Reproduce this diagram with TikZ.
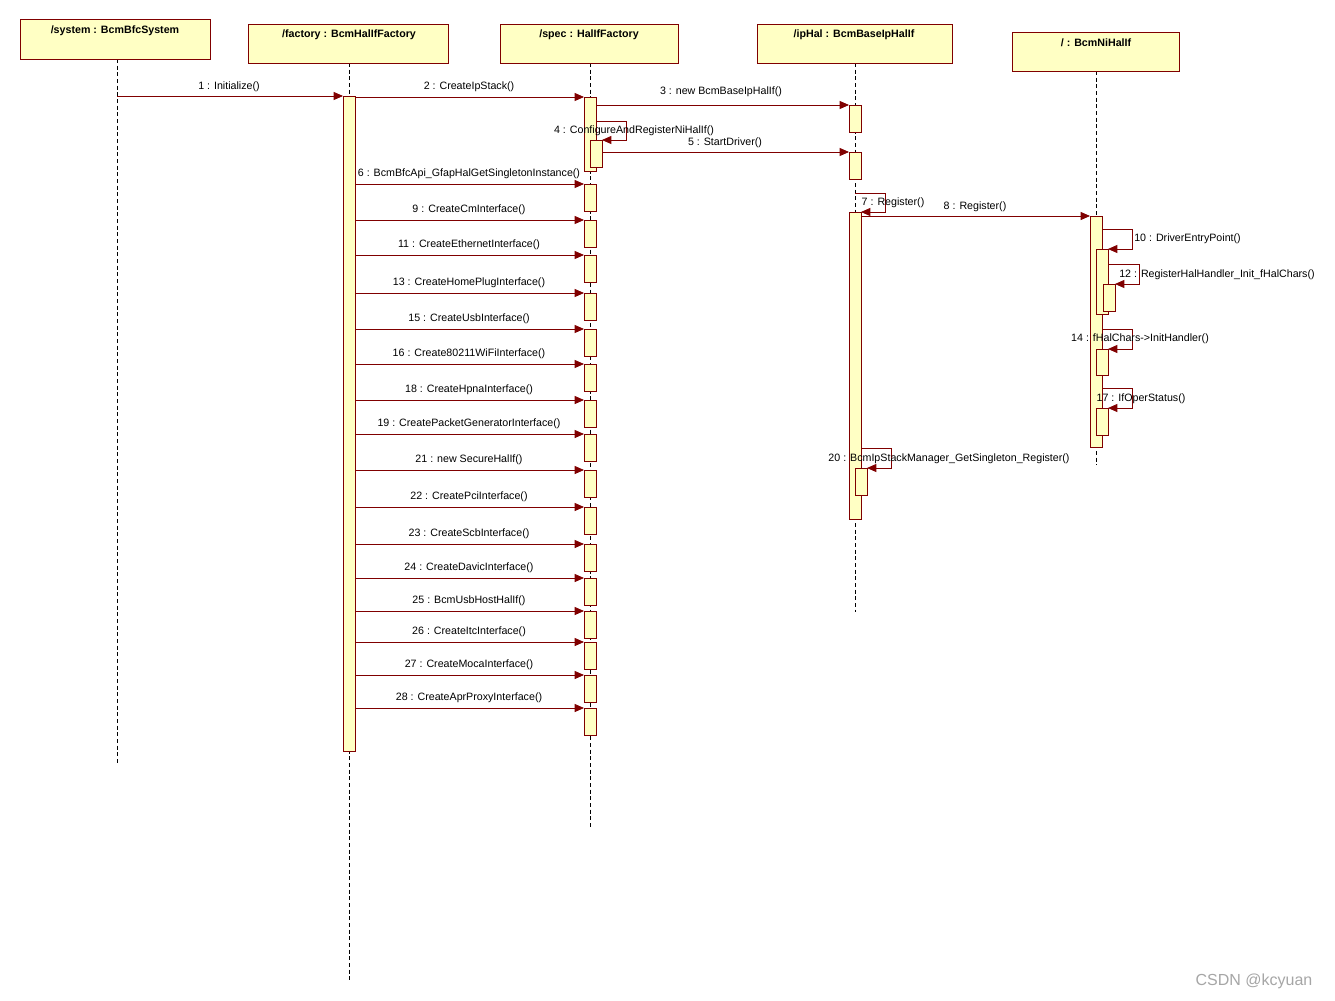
\documentclass[tikz,border=0pt]{standalone}
\usepackage{fontspec}
\setmainfont{Liberation Sans}
\usetikzlibrary{arrows.meta}
\definecolor{dred}{HTML}{800000}
\definecolor{lyel}{HTML}{FFFFC4}
\begin{document}
\begin{tikzpicture}[x=0.75pt,y=-0.75pt,
  obj/.style={draw=dred,fill=lyel,line width=0.6pt},
  life/.style={dash pattern=on 3pt off 2pt,line width=0.5pt},
  act/.style={draw=dred,fill=lyel,line width=0.6pt},
  msg/.style={dred,line width=0.6pt,-{Triangle[length=7pt,width=6pt]}},
  lab/.style={font=\fontsize{8pt}{9pt}\selectfont,inner sep=0pt},
  hd/.style={font=\bfseries\fontsize{8pt}{9pt}\selectfont,inner sep=0pt}]
\useasboundingbox (0,0) rectangle (1335,1000);
\fill[white] (0,0) rectangle (1335,1000);
% lifelines
\draw[life] (117,59) -- (117,765);
\draw[life] (349,63) -- (349,980);
\draw[life] (590,63) -- (590,828);
\draw[life] (855,63) -- (855,612);
\draw[life] (1096,71) -- (1096,465);
% object boxes
\draw[obj] (20,19) rectangle (210,59); \node[hd] (sys) at (115,31) {/system : BcmBfcSystem};
\draw[obj] (248,24) rectangle (448,63); \node[hd] (fac) at (349,35) {/factory : BcmHalIfFactory};
\draw[obj] (500,24) rectangle (678,63); \node[hd] (spec) at (589,35) {/spec : HalIfFactory};
\draw[obj] (757,24) rectangle (952,63); \node[hd] (iphal) at (854,35) {/ipHal : BcmBaseIpHalIf};
\draw[obj] (1012,32) rectangle (1179,71); \node[hd] (ni) at (1096,43) {/ : BcmNiHalIf};
% activations
\draw[act] (343,96) rectangle (355,751);
\draw[act] (584,97) rectangle (596,171);
\draw[act] (590,140) rectangle (602,167);
\foreach \a in {184,220,255,293,329,364,400,434,470,507,544,578,611,642,675,708}
  \draw[act] (584,\a) rectangle (596,\a+27);
\draw[act] (849,105) rectangle (861,132);
\draw[act] (849,152) rectangle (861,179);
\draw[act] (849,212) rectangle (861,519);
\draw[act] (855,468) rectangle (867,495);
\draw[act] (1090,216) rectangle (1102,447);
\draw[act] (1096,249) rectangle (1108,314);
\draw[act] (1103,284) rectangle (1115,311);
\draw[act] (1096,349) rectangle (1108,375);
\draw[act] (1096,408) rectangle (1108,435);
% messages
\draw[msg] (117,96) -- (343,96); \node[lab] at (229,87) {1 : Initialize()};
\foreach \y/\t in {97/2 : CreateIpStack(),184/6 : BcmBfcApi\_GfapHalGetSingletonInstance(),220/9 : CreateCmInterface(),255/11 : CreateEthernetInterface(),293/13 : CreateHomePlugInterface(),329/15 : CreateUsbInterface(),364/16 : Create80211WiFiInterface(),400/18 : CreateHpnaInterface(),434/19 : CreatePacketGeneratorInterface(),470/21 : new SecureHalIf(),507/22 : CreatePciInterface(),544/23 : CreateScbInterface(),578/24 : CreateDavicInterface(),611/25 : BcmUsbHostHalIf(),642/26 : CreateItcInterface(),675/27 : CreateMocaInterface(),708/28 : CreateAprProxyInterface()}
{ \draw[msg] (355,\y) -- (584,\y); \node[lab] at (469,\y-10) {\t}; }
\draw[msg] (596,105) -- (849,105); \node[lab] at (721,92) {3 : new BcmBaseIpHalIf()};
\draw[msg] (602,152) -- (849,152); \node[lab] at (725,143) {5 : StartDriver()};
\draw[msg] (596,121) -- (626,121) -- (626,140) -- (602,140); \node[lab] at (634,131) {4 : ConfigureAndRegisterNiHalIf()};
\draw[msg] (855,193) -- (885,193) -- (885,212) -- (861,212); \node[lab] at (893,203) {7 : Register()};
\draw[msg] (861,216) -- (1090,216); \node[lab] at (975,207) {8 : Register()};
\draw[msg] (1102,229) -- (1132,229) -- (1132,249) -- (1108,249); \node[lab,anchor=west] at (1134,239) {10 : DriverEntryPoint()};
\draw[msg] (1108,264) -- (1139,264) -- (1139,284) -- (1115,284); \node[lab,anchor=west] at (1119,275) {12 : RegisterHalHandler\_Init\_fHalChars()};
\draw[msg] (1102,329) -- (1132,329) -- (1132,349) -- (1108,349); \node[lab] at (1140,339) {14 : fHalChars->InitHandler()};
\draw[msg] (1102,388) -- (1132,388) -- (1132,408) -- (1108,408); \node[lab] at (1141,399) {17 : IfOperStatus()};
\draw[msg] (861,448) -- (891,448) -- (891,468) -- (867,468); \node[lab] at (949,459) {20 : BcmIpStackManager\_GetSingleton\_Register()};
\node[font=\fontsize{12pt}{13pt}\selectfont,text=gray!70,inner sep=0pt] (wm) at (1254,981) {CSDN @kcyuan};
\end{tikzpicture}
\end{document}
